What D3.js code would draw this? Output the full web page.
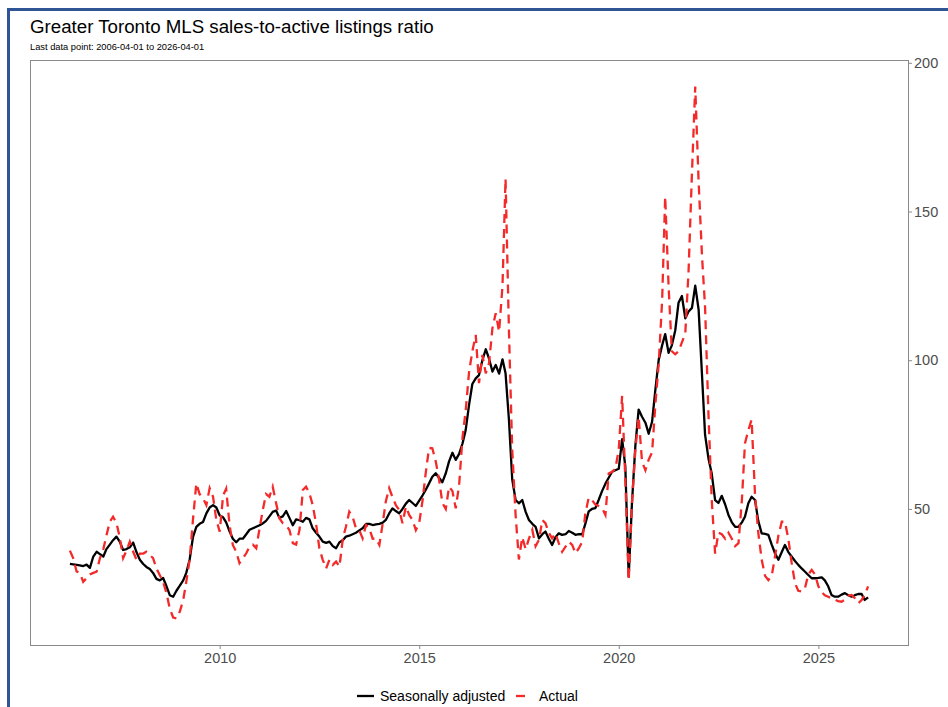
<!DOCTYPE html>
<html>
<head>
<meta charset="utf-8">
<script src="https://cdn.jsdelivr.net/npm/d3@7"></script>
<style>
  body { margin: 0; background: #fff; }
  svg { display: block; font-family: "Liberation Sans", Arial, sans-serif; }
</style>
</head>
<body>
<div id="chart"></div>
<script>
// monthly series, first point 2006-04-01
var startMonth = "2006-04-01";

var seasonallyAdjusted = [
  31.5, 31.4, 31.2, 31.0, 30.8, 31.3, 30.2, 34.0, 35.6, 34.8,
  34.0, 36.5, 38.0, 39.5, 40.7, 39.0, 36.2, 36.5, 37.1, 38.7,
  35.5, 32.9, 31.5, 30.5, 29.8, 28.5, 26.5, 26.0, 26.8, 24.0,
  21.0, 20.5, 22.5, 24.2, 26.0, 28.5, 33.0, 40.5, 44.0, 45.0,
  45.6, 48.5, 50.5, 51.3, 50.5, 47.8, 47.2, 45.5, 42.5, 40.0,
  38.8, 40.0, 40.0, 41.5, 43.0, 43.5, 44.0, 44.5, 45.2, 46.0,
  47.5, 49.0, 49.5, 47.0, 47.5, 49.3, 47.0, 44.5, 46.5, 46.2,
  45.7, 47.0, 46.5, 43.5, 42.0, 40.7, 39.0, 38.6, 39.0, 37.5,
  36.8, 38.8, 39.5, 40.7, 41.0, 41.5, 42.0, 42.8, 43.5, 45.0,
  45.0, 44.6, 44.8, 45.0, 45.4, 46.3, 48.5, 50.2, 49.3, 48.5,
  50.0, 51.8, 53.0, 52.0, 51.0, 52.8, 54.6, 56.4, 58.6, 60.8,
  62.0, 60.5, 59.0, 62.0, 66.0, 68.9, 66.5, 68.5, 72.0, 76.5,
  85.0, 92.0, 93.9, 95.0, 100.0, 103.7, 100.5, 96.2, 98.4, 95.5,
  100.3, 95.6, 80.0, 60.0, 53.0, 51.9, 53.0, 49.0, 46.3, 45.0,
  44.0, 40.1, 41.5, 42.4, 40.0, 37.9, 40.5, 41.8, 41.3, 41.5,
  42.6, 42.0, 41.3, 41.5, 41.5, 45.0, 49.2, 50.0, 50.3, 53.0,
  56.0, 58.5, 60.5, 62.5, 63.0, 63.5, 73.5, 64.3, 27.2, 52.0,
  71.2, 83.4, 81.0, 79.0, 75.3, 79.3, 90.0, 100.2, 105.0, 108.8,
  102.5, 105.0, 110.0, 119.3, 121.6, 114.1, 116.4, 117.6, 125.1, 117.0,
  95.0, 75.0, 67.0, 61.9, 53.0, 52.0, 54.4, 51.5, 48.0, 45.5,
  44.0, 44.0, 45.5, 47.4, 51.9, 54.1, 53.0, 46.0, 41.8, 41.6,
  41.3, 38.0, 35.1, 32.9, 35.5, 37.9, 35.5, 34.0, 32.5, 31.2,
  30.0, 28.9, 27.8, 26.7, 26.7, 26.8, 27.0, 26.0, 24.0, 21.1,
  20.5, 20.5, 21.2, 21.7, 21.0, 20.5, 21.0, 21.4, 21.4, 19.4, 20.3
];

var actual = [
  36.0, 33.5, 29.0, 28.5, 25.5, 26.8, 28.0, 28.5, 28.9, 33.5,
  36.5, 41.0, 45.7, 47.4, 45.3, 40.5, 33.5, 36.0, 39.0, 35.6,
  33.0, 35.0, 35.0, 35.6, 34.5, 33.5, 30.0, 27.8, 25.5, 21.7,
  16.5, 13.5, 13.2, 15.5, 19.4, 25.5, 33.0, 46.3, 58.6, 55.0,
  53.6, 51.3, 57.0, 54.1, 46.3, 42.4, 54.5, 56.8, 44.6, 37.9,
  35.6, 31.8, 33.4, 35.1, 37.3, 38.0, 36.8, 43.5, 50.0, 55.0,
  54.1, 57.5, 52.0, 46.9, 45.2, 44.6, 42.9, 38.5, 38.0, 42.9,
  56.4, 57.5, 55.3, 51.3, 45.0, 36.8, 32.9, 30.0, 32.9, 31.2,
  32.3, 30.6, 40.1, 44.0, 49.1, 47.4, 43.5, 42.9, 40.1, 44.6,
  43.5, 40.0, 40.1, 37.9, 45.2, 52.5, 57.0, 54.0, 51.3, 49.7,
  45.2, 50.8, 48.0, 46.3, 42.9, 45.3, 53.0, 62.0, 70.5, 70.4,
  66.0, 60.0, 52.0, 50.0, 57.5, 56.0, 50.2, 58.0, 74.0, 83.0,
  96.0, 103.0, 108.5, 92.3, 101.8, 95.6, 99.0, 110.8, 115.8, 109.6,
  125.0, 161.0, 110.0, 70.0, 48.0, 33.0, 40.5, 36.5, 40.0, 43.0,
  37.5, 39.6, 46.3, 45.2, 42.0, 40.1, 41.8, 38.5, 35.6, 37.3,
  39.0, 37.9, 35.1, 36.8, 39.0, 48.5, 53.8, 53.0, 51.5, 51.0,
  50.3, 48.0, 61.9, 62.5, 63.5, 70.0, 88.0, 60.0, 26.0, 52.0,
  70.0, 81.0, 66.0, 63.0, 66.6, 69.0, 85.0, 99.0, 120.0, 155.0,
  125.0, 103.0, 102.0, 103.0, 106.0, 109.0, 130.0, 163.0, 192.0, 160.0,
  135.0, 118.0, 82.0, 53.0, 35.0, 42.0, 41.5, 40.0, 42.0, 40.0,
  37.5, 38.5, 53.0, 72.0, 76.5, 80.0, 55.0, 42.0, 33.0, 27.5,
  26.1, 27.5, 34.0, 41.0, 45.7, 45.7, 40.0, 32.0, 25.0, 22.5,
  22.2, 23.5, 28.0, 29.5, 28.0, 24.0, 22.0, 21.0, 20.5, 19.9,
  19.5, 19.0, 18.8, 19.5, 20.8, 21.1, 20.0, 18.3, 19.4, 21.0, 24.0
];

var xTickYears = [2010, 2015, 2020, 2025];
var yTickValues = [50, 100, 150, 200];
var seriesNames = ["Seasonally adjusted", "Actual"];

var width = 948, height = 707;
var margin = { top: 60, right: 40, bottom: 62, left: 30 };

var svg = d3.select("#chart").append("svg")
  .attr("width", width)
  .attr("height", height);

svg.append("rect")
  .attr("width", width)
  .attr("height", height)
  .attr("fill", "#fff");

// blue frame, cut off on the right and bottom
svg.append("path")
  .attr("d", "M8.5," + height + "V9.5H" + width)
  .attr("fill", "none")
  .attr("stroke", "#2f5597")
  .attr("stroke-width", 3);

svg.append("text")
  .attr("x", 30)
  .attr("y", 33)
  .attr("font-size", "18.7px")
  .attr("fill", "#000")
  .text("Greater Toronto MLS sales-to-active listings ratio");

svg.append("text")
  .attr("x", 30)
  .attr("y", 50)
  .attr("font-size", "9.3px")
  .attr("fill", "#000")
  .text("Last data point: 2006-04-01 to 2026-04-01");

var parseDate = d3.timeParse("%Y-%m-%d");
var start = parseDate(startMonth);
var dates = seasonallyAdjusted.map(function (d, i) {
  return d3.timeMonth.offset(start, i);
});

var innerW = width - margin.left - margin.right,
  innerH = height - margin.top - margin.bottom;

var g = svg.append("g")
  .attr("transform", "translate(" + margin.left + "," + margin.top + ")");

// ggplot style 5% expansion on both axes
var d0 = dates[0], d1 = dates[dates.length - 1];
var pad = (d1 - d0) * 0.05;
var x = d3.scaleTime()
  .domain([new Date(+d0 - pad), new Date(+d1 + pad)])
  .range([0, innerW]);

var allVals = seasonallyAdjusted.concat(actual);
var yMin = d3.min(allVals), yMax = d3.max(allVals);
var yPad = (yMax - yMin) * 0.05;
var y = d3.scaleLinear()
  .domain([yMin - yPad, yMax + yPad])
  .range([innerH, 0]);

g.append("rect")
  .attr("x", 0.5)
  .attr("y", 0.5)
  .attr("width", innerW)
  .attr("height", innerH)
  .attr("fill", "none")
  .attr("stroke", "#8a8a8a")
  .attr("stroke-width", 1);

var xAxis = d3.axisBottom(x)
  .tickValues(xTickYears.map(function (yr) { return new Date(yr, 0, 1); }))
  .tickFormat(d3.timeFormat("%Y"))
  .tickSize(4)
  .tickPadding(4);

var gx = g.append("g")
  .attr("transform", "translate(0," + innerH + ")")
  .call(xAxis);

var yAxis = d3.axisRight(y)
  .tickValues(yTickValues)
  .tickSize(4)
  .tickPadding(2);

var gy = g.append("g")
  .attr("transform", "translate(" + innerW + ",0)")
  .call(yAxis);

[gx, gy].forEach(function (ax) {
  ax.select(".domain").remove();
  ax.selectAll(".tick line").attr("stroke", "#8a8a8a");
  ax.selectAll(".tick text")
    .attr("fill", "#4d4d4d")
    .attr("font-size", "14.5px")
    .attr("font-family", "Liberation Sans, Arial, sans-serif");
});

var line = d3.line()
  .x(function (d) { return x(d[0]); })
  .y(function (d) { return y(d[1]); });

g.append("path")
  .datum(dates.map(function (d, i) { return [d, seasonallyAdjusted[i]]; }))
  .attr("fill", "none")
  .attr("stroke", "#000")
  .attr("stroke-width", 2.3)
  .attr("stroke-linejoin", "round")
  .attr("d", line);

g.append("path")
  .datum(dates.map(function (d, i) { return [d, actual[i]]; }))
  .attr("fill", "none")
  .attr("stroke", "#f42a2a")
  .attr("stroke-width", 2.3)
  .attr("stroke-dasharray", "9,6")
  .attr("d", line);

// legend
var legend = svg.append("g")
  .attr("transform", "translate(357,696)");

var keys = [
  { name: seriesNames[0], x: 0, color: "#000", dash: null },
  { name: seriesNames[1], x: 159, color: "#f42a2a", dash: "9,20" }
];

keys.forEach(function (k) {
  legend.append("line")
    .attr("x1", k.x)
    .attr("x2", k.x + 17)
    .attr("y1", 0)
    .attr("y2", 0)
    .attr("stroke", k.color)
    .attr("stroke-width", 2.3)
    .attr("stroke-dasharray", k.dash);
  legend.append("text")
    .attr("x", k.x + 23)
    .attr("y", 5)
    .attr("font-size", "14px")
    .attr("fill", "#000")
    .text(k.name);
});
</script>
</body>
</html>
